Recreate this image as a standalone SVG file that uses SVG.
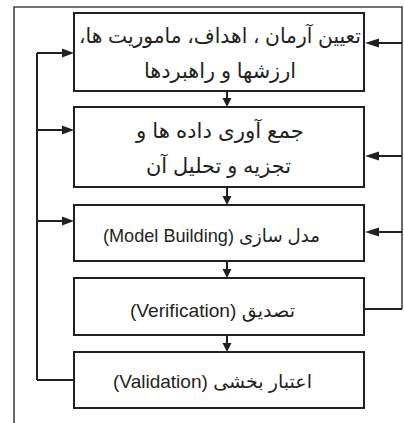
<svg xmlns="http://www.w3.org/2000/svg" width="404" height="423" viewBox="0 0 404 423">
<style>
.box{fill:#fff;stroke:#231f20;stroke-width:2}
.ln{fill:none;stroke:#231f20;stroke-width:2}
.fr{fill:none;stroke:#444;stroke-width:1.6}
.ah{fill:#231f20}
.t{font-family:"Liberation Sans","DejaVu Sans",sans-serif;fill:#231f20;text-anchor:middle}
.fa{font-size:21px}
.mx{font-size:18.5px}
</style>
<rect width="404" height="423" fill="#fff"/>
<g id="frame">
<polyline class="fr" points="14,423 14,7 402,7 402,309"/>
</g>
<g id="connectors">
<line class="ln" x1="37" y1="53" x2="37" y2="380"/>
<line class="ln" x1="37" y1="380" x2="74" y2="380"/>
<line class="ln" x1="37" y1="53" x2="63" y2="53"/>
<polygon class="ah" points="74,53 62,48.5 62,57.5"/>
<line class="ln" x1="37" y1="130" x2="63" y2="130"/>
<polygon class="ah" points="74,130 62,125.5 62,134.5"/>
<line class="ln" x1="37" y1="221" x2="63" y2="221"/>
<polygon class="ah" points="74,221 62,216.5 62,225.5"/>
<line class="ln" x1="402" y1="43" x2="377" y2="43"/>
<polygon class="ah" points="365,43 379,38.5 379,47.5"/>
<line class="ln" x1="402" y1="156" x2="377" y2="156"/>
<polygon class="ah" points="365,156 379,151.5 379,160.5"/>
<line class="ln" x1="402" y1="232" x2="377" y2="232"/>
<polygon class="ah" points="365,232 379,227.5 379,236.5"/>
<line class="ln" x1="365" y1="309" x2="402" y2="309"/>
<line class="ln" x1="227" y1="91" x2="227" y2="99"/>
<polygon class="ah" points="227,107 222.5,98 231.5,98"/>
<line class="ln" x1="227" y1="187" x2="227" y2="197"/>
<polygon class="ah" points="227,205 222.5,196 231.5,196"/>
<line class="ln" x1="227" y1="261" x2="227" y2="270"/>
<polygon class="ah" points="227,278 222.5,269 231.5,269"/>
<line class="ln" x1="227" y1="335" x2="227" y2="344"/>
<polygon class="ah" points="227,352 222.5,343 231.5,343"/>
</g>
<g id="n1">
<rect class="box" x="74" y="13" width="290" height="78"/>
<text class="t fa" direction="rtl" x="220" y="43" textLength="282" lengthAdjust="spacingAndGlyphs">تعیین آرمان ، اهداف، ماموریت ها،</text>
<text class="t fa" direction="rtl" x="220" y="78" textLength="152" lengthAdjust="spacingAndGlyphs">ارزشها و راهبردها</text>
</g>
<g id="n2">
<rect class="box" x="74" y="107" width="290" height="80"/>
<text class="t fa" direction="rtl" x="220" y="138" textLength="168" lengthAdjust="spacingAndGlyphs">جمع آوری داده ها و</text>
<text class="t fa" direction="rtl" x="218.5" y="173" textLength="145" lengthAdjust="spacingAndGlyphs">تجزیه و تحلیل آن</text>
</g>
<g id="n3">
<rect class="box" x="74" y="205" width="290" height="56"/>
<text class="t mx" direction="rtl" x="211.5" y="242" textLength="217" lengthAdjust="spacingAndGlyphs">مدل سازی (Model Building)</text>
</g>
<g id="n4">
<rect class="box" x="74" y="278" width="290" height="57"/>
<text class="t mx" direction="rtl" x="212.5" y="317" textLength="165" lengthAdjust="spacingAndGlyphs">تصدیق (Verification)</text>
</g>
<g id="n5">
<rect class="box" x="74" y="352" width="290" height="56"/>
<text class="t mx" direction="rtl" x="212.5" y="388" textLength="199" lengthAdjust="spacingAndGlyphs">اعتبار بخشی (Validation)</text>
</g>
</svg>
